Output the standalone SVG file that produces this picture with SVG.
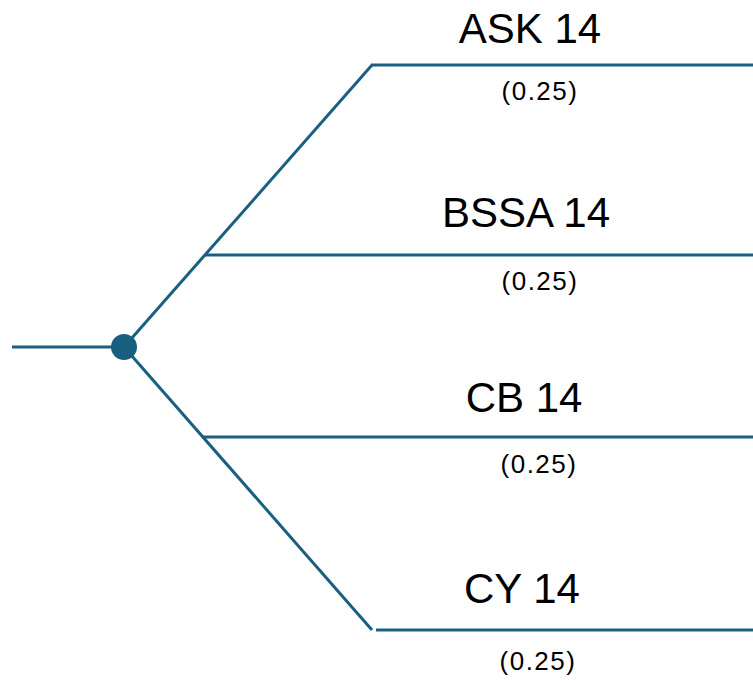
<svg xmlns="http://www.w3.org/2000/svg" width="753" height="681" viewBox="0 0 753 681">
  <style>
    .edge { stroke: #1a5f80; stroke-width: 3; fill: none; }
    .title { font-family: "Liberation Sans", Arial, sans-serif; font-size: 42px; fill: #000; text-anchor: middle; }
    .prob { font-family: "Liberation Sans", Arial, sans-serif; font-size: 26px; letter-spacing: 1.5px; fill: #000; text-anchor: middle; }
  </style>
  <rect width="753" height="681" fill="#ffffff"/>
  <g id="connectors">
    <line class="edge" x1="12" y1="347" x2="124" y2="347"/>
    <line class="edge" x1="124" y1="347" x2="372" y2="65"/>
    <line class="edge" x1="124" y1="347" x2="372" y2="630"/>
    <line class="edge" x1="371" y1="65" x2="753" y2="65"/>
    <line class="edge" x1="205" y1="255" x2="753" y2="255"/>
    <line class="edge" x1="203" y1="437" x2="753" y2="437"/>
    <line class="edge" x1="376" y1="630" x2="753" y2="630"/>
  </g>
  <g id="chance-node">
    <circle cx="124" cy="347" r="13" fill="#17607f"/>
  </g>
  <g id="branch-ask">
    <text class="title" x="530" y="43">ASK 14</text>
    <text class="prob" x="540" y="100">(0.25)</text>
  </g>
  <g id="branch-bssa">
    <text class="title" x="526" y="227">BSSA 14</text>
    <text class="prob" x="540" y="290">(0.25)</text>
  </g>
  <g id="branch-cb">
    <text class="title" x="524" y="412">CB 14</text>
    <text class="prob" x="539" y="473">(0.25)</text>
  </g>
  <g id="branch-cy">
    <text class="title" x="522" y="603">CY 14</text>
    <text class="prob" x="538" y="670">(0.25)</text>
  </g>
</svg>
